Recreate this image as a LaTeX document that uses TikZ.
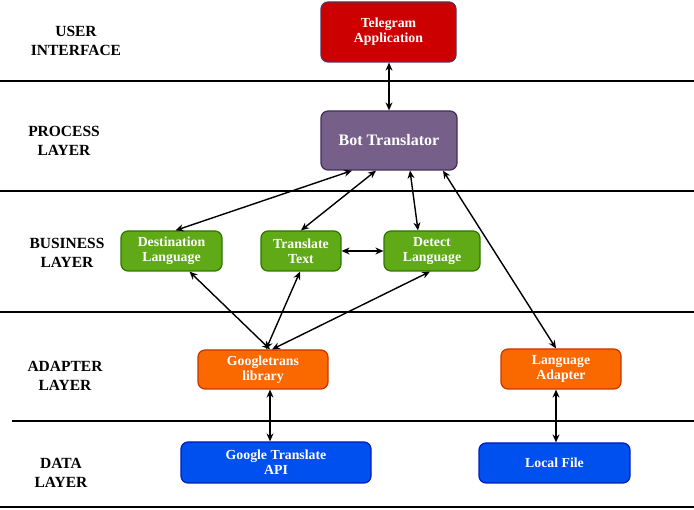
\documentclass[tikz,border=0pt]{standalone}
\usepackage{fontspec}
\setmainfont{Liberation Serif}
\usetikzlibrary{arrows.meta}

\definecolor{uired}{RGB}{204,0,0}
\definecolor{uiredline}{RGB}{86,52,90}
\definecolor{procfill}{RGB}{118,96,138}
\definecolor{procline}{RGB}{67,45,87}
\definecolor{busfill}{RGB}{96,169,23}
\definecolor{busline}{RGB}{45,118,0}
\definecolor{adfill}{RGB}{250,104,0}
\definecolor{adline}{RGB}{199,53,0}
\definecolor{datafill}{RGB}{0,80,239}
\definecolor{dataline}{RGB}{0,29,188}

\tikzset{
  box/.style={draw, line width=1.2pt, rounded corners=7pt, align=center,
    text=white, font=\bfseries\fontsize{13.8}{15}\selectfont, inner sep=0pt},
  layerbox/.style={box, fill=#1fill, draw=#1line},
  layerlabel/.style={align=center, font=\bfseries\fontsize{15.5}{19}\selectfont},
  sep/.style={line width=2.6pt},
  link/.style={{Stealth[length=8pt,width=7pt]}-{Stealth[length=8pt,width=7pt]}, line width=1.4pt}
}

\begin{document}
\begin{tikzpicture}[x=1pt,y=-1pt]
    \useasboundingbox (0,0) rectangle (694,510);
    % layer separators
    \foreach \yy in {81,191,312}
      \draw[sep] (0,\yy) -- (694,\yy);
    \draw[sep] (12,421) -- (694,421);
    \draw[sep] (0,507) -- (694,507);
    % layer names
    \node[layerlabel] (lui)   at (76,41)  {USER\\INTERFACE};
    \node[layerlabel] (lproc) at (64,141) {PROCESS\\LAYER};
    \node[layerlabel] (lbus)  at (67,253) {BUSINESS\\LAYER};
    \node[layerlabel] (ladp)  at (65,376) {ADAPTER\\LAYER};
    \node[layerlabel] (ldata) at (61,473) {DATA\\LAYER};
    % components
    \node[box, fill=uired, draw=uiredline, minimum width=135pt, minimum height=60pt] (tg) at (388.5,32) {Telegram\\Application};
    \node[layerbox=proc, minimum width=136pt, minimum height=59pt, font=\bfseries\fontsize{16}{18}\selectfont] (bot) at (389,140.5) {Bot Translator};
    \node[layerbox=bus, minimum width=101pt, minimum height=40pt] (dest) at (171.5,251) {Destination\\Language};
    \node[layerbox=bus, minimum width=80pt, minimum height=40pt] (trans) at (301,251) {Translate\\Text};
    \node[layerbox=bus, minimum width=96pt, minimum height=40pt] (detect) at (432,251) {Detect\\Language};
    \node[layerbox=ad, minimum width=130pt, minimum height=39pt] (gtrans) at (263,369.5) {Googletrans\\library};
    \node[layerbox=ad, minimum width=120pt, minimum height=40pt] (adapt) at (561,369) {Language\\Adapter};
    \node[layerbox=data, minimum width=190pt, minimum height=41pt] (api) at (276,462.5) {Google Translate\\API};
    \node[layerbox=data, minimum width=151pt, minimum height=40pt] (file) at (554.5,463) {Local File};
    % links
    \draw[link] (tg.south -| 389,0) -- (bot.north -| 389,0);
    \draw[link] ([xshift=-37pt]bot.south) -- ([xshift=4pt]dest.north);
    \draw[link] ([xshift=-13pt]bot.south) -- (trans.north);
    \draw[link] ([xshift=21pt]bot.south) -- ([xshift=-14pt]detect.north);
    \draw[link] ([xshift=54pt]bot.south) -- ([xshift=-5pt]adapt.north);
    \draw[link] (trans.east) -- (detect.west);
    \draw[link] ([xshift=7pt]gtrans.north) -- ([xshift=18pt]dest.south);
    \draw[link] ([xshift=3pt]gtrans.north) -- ([xshift=-1pt]trans.south);
    \draw[link] ([xshift=9pt]gtrans.north) -- ([xshift=-2pt]detect.south);
    \draw[link] ([xshift=7pt]gtrans.south) -- ([xshift=7pt]gtrans.south |- api.north);
    \draw[link] ([xshift=-5pt]adapt.south) -- ([xshift=-5pt]adapt.south |- file.north);
\end{tikzpicture}
\end{document}
